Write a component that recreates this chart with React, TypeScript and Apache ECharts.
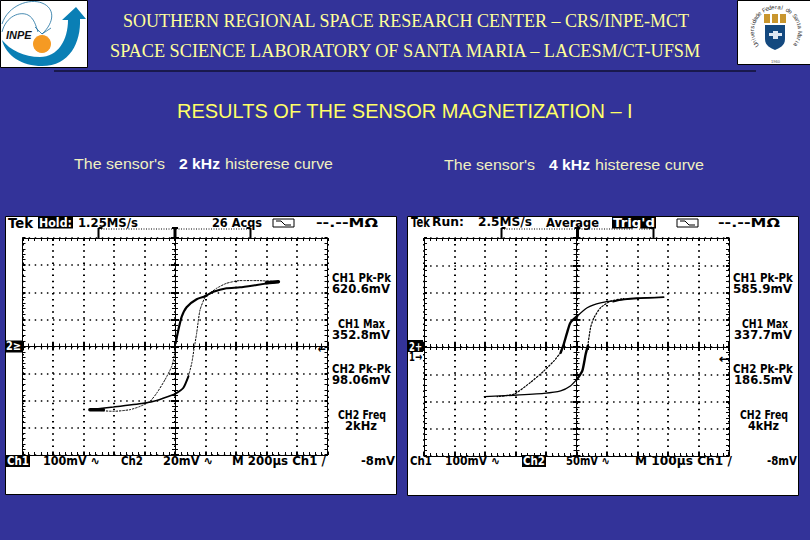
import React, { useEffect, useRef } from "react";
import * as echarts from "echarts";

const BG = "#333399";
const YELLOW = "#FFFF99";
const TITLE_YELLOW = "#FFFF66";
const PALE = "#F0F0C0";

const headerLines = [
  "SOUTHERN REGIONAL SPACE RESEARCH CENTER – CRS/INPE-MCT",
  "SPACE SCIENCE LABORATORY OF SANTA MARIA – LACESM/CT-UFSM",
];
const slideTitle = "RESULTS OF THE SENSOR MAGNETIZATION – I";
const crestText = "Universidade Federal de Santa Maria";

// Curves in graticule divisions.
const left2kLowerFlat = [[-2.79,-2.33],[-2.02,-2.23],[-1.04,-2.09],[-0.6,-1.99],[0,-1.75]];
const left2kLowerSteep = [[0,-1.75],[0.27,-1.53],[0.44,-1.1]];
const left2kRisingThin = [[0.44,-1.1],[0.55,-0.61],[0.62,-0.12],[0.71,0.49],[0.82,1.35],[0.98,1.82]];
const left2kUpperThick = [[0.98,1.85],[1.26,2.02],[1.69,2.15],[2.13,2.18],[2.68,2.27],[3.39,2.39]];
const left2kTopThin = [[3.39,2.39],[2.68,2.43],[2.13,2.43],[1.69,2.33],[1.37,2.15],[1.04,1.88]];
const left2kFallingThick = [[1.04,1.87],[0.71,1.74],[0.38,1.45],[0.22,1.1],[0.11,0.61],[0.02,0.12]];
const left2kFallingThin = [[0.02,0.12],[-0.01,-0.25],[-0.11,-0.74],[-0.33,-1.23],[-0.6,-1.72],[-0.82,-2.02],[-1.15,-2.21],[-1.48,-2.33],[-2.02,-2.39],[-2.79,-2.33]];
const left2kTipLow = [[-2.79,-2.33],[-2.35,-2.33]];
const left2kTipHigh = [[3.0,2.35],[3.39,2.39]];

const right4kLowerFlat = [[-3.02,-1.82],[-2.05,-1.77],[-1.07,-1.7],[-0.52,-1.61],[-0.2,-1.43],[0.02,-1.18]];
const right4kLowerSteep = [[0.02,-1.18],[0.19,-0.88],[0.3,-0.27],[0.37,0.04]];
const right4kRisingThin = [[0.37,0.04],[0.46,0.71],[0.57,1.07],[0.79,1.44],[1.11,1.68],[1.55,1.78]];
const right4kUpperFlat = [[1.2,1.66],[1.55,1.75],[1.99,1.8],[2.86,1.83]];
const right4kFallingFlat = [[2.86,1.83],[1.99,1.78],[1.33,1.71],[0.79,1.62],[0.35,1.44],[0.02,1.13]];
const right4kFallingSteep = [[0.02,1.13],[-0.2,0.89],[-0.31,0.52],[-0.42,0.1],[-0.52,-0.21]];
const right4kFallingThin = [[-0.52,-0.21],[-0.74,-0.51],[-1.07,-0.88],[-1.51,-1.3],[-2.05,-1.73],[-2.6,-1.82]];

const leftTop = ["Tek", "Hold:", "1.25MS/s", "26 Acqs", "--.--MΩ"];
const rightTop = ["Tek", "Run:", "2.5MS/s", "Average", "Trig'd", "--.--MΩ"];
const leftBottom = ["Ch1", "100mV ∿", "Ch2", "20mV ∿", "M 200µs Ch1 /", "-8mV"];
const rightBottom = ["Ch1", "100mV ∿", "Ch2", "50mV ∿", "M 100µs Ch1 /", "-8mV"];
const leftReadouts = ["CH1 Pk-Pk", "620.6mV", "CH1 Max", "352.8mV", "CH2 Pk-Pk", "98.06mV", "CH2 Freq", "2kHz"];
const rightReadouts = ["CH1 Pk-Pk", "585.9mV", "CH1 Max", "337.7mV", "CH2 Pk-Pk", "186.5mV", "CH2 Freq", "4kHz"];

const SANS = '"DejaVu Sans"';
const measureCtx = document.createElement("canvas").getContext("2d")!;

function plain(x: number, y: number, text: string, font: string, fill: string, z = 10, align = "left") {
  return {
    type: "text", x, y, z, silent: true,
    style: { text, font, fill, align, verticalAlign: "middle", textAlign: align, textVerticalAlign: "middle" },
  };
}
// Text stretched horizontally so that it spans exactly x..x+w
function fit(x: number, w: number, y: number, text: string, font: string, fill = "#000", z = 10) {
  measureCtx.font = font;
  const m = measureCtx.measureText(text).width;
  return { ...plain(x, y, text, font, fill, z), scaleX: w / m, originX: 0 };
}
function tek(x: number, w: number, y: number, text: string, size = 12) {
  return fit(x, w, y, text, `bold ${size}px ${SANS}`);
}
function inverse(x: number, w: number, y: number, text: string) {
  return [
    { type: "rect", z: 9, silent: true, shape: { x: x - 1, y: y - 6, width: w + 2, height: 12 }, style: { fill: "#000" } },
    fit(x, w, y, text, `bold 12px ${SANS}`, "#fff", 10),
  ];
}

function bracket(x0: number, xc: number, x1: number, y: number) {
  const st = { stroke: "#000", lineWidth: 2 };
  return [
    { type: "line", z: 5, shape: { x1: x0, y1: y - 5, x2: x0, y2: y + 5 }, style: st },
    { type: "line", z: 5, shape: { x1: x0, y1: y - 5, x2: x0 + 4, y2: y - 5 }, style: st },
    { type: "line", z: 5, shape: { x1: x1, y1: y - 5, x2: x1, y2: y + 5 }, style: st },
    { type: "line", z: 5, shape: { x1: x1, y1: y - 5, x2: x1 - 4, y2: y - 5 }, style: st },
    { type: "line", z: 5, shape: { x1: xc, y1: y - 5, x2: xc, y2: y + 5 }, style: { stroke: "#000", lineWidth: 3 } },
    { type: "line", z: 5, shape: { x1: xc - 3, y1: y - 5, x2: xc + 3, y2: y - 5 }, style: st },
    { type: "line", z: 5, shape: { x1: x0, y1: y - 4, x2: x1, y2: y - 4 }, style: { stroke: "#000", lineWidth: 1, lineDash: [1, 1.5] } },
  ];
}

function waveBox(x: number, y: number) {
  return [
    { type: "rect", z: 5, shape: { x, y, width: 21, height: 8 }, style: { fill: "#fff", stroke: "#000", lineWidth: 1 } },
    { type: "polyline", z: 6, shape: { points: [[x + 3, y + 2], [x + 8, y + 2], [x + 12, y + 6], [x + 18, y + 6]] }, style: { fill: "none", stroke: "#000", lineWidth: 1 } },
  ];
}

function scopeAxes(rect: { left: number; top: number; width: number; height: number }, g: number, axis: number) {
  const base = { type: "value", min: -5, max: 5, interval: 1, axisLabel: { show: false }, silent: true };
  const ybase = { ...base, min: -4, max: 4 };
  const dotted = (w: number) => ({ show: true, lineStyle: { color: "#000", width: w, type: [1.5, 4.6] } });
  const border = {
    axisLine: { show: true, onZero: false, lineStyle: { color: "#000", width: 1 } },
    axisTick: { show: true, inside: true, length: 3, lineStyle: { color: "#000", width: 2 } },
    minorTick: { show: true, splitNumber: 5, length: 3, lineStyle: { color: "#000", width: 1 } },
  };
  const center = (inside: boolean) => ({
    axisLine: { show: true, onZero: true, lineStyle: { color: "#000", width: 1 } },
    axisTick: { show: true, inside, length: 4, lineStyle: { color: "#000", width: 2 } },
    minorTick: { show: true, splitNumber: 5, length: 3, lineStyle: { color: "#000", width: 1 } },
    splitLine: { show: false },
  });
  const xAxis = [
    { ...base, gridIndex: g, position: "bottom", ...border, splitLine: dotted(2) },
    { ...base, gridIndex: g, position: "top", ...border, splitLine: { show: false } },
    { ...base, gridIndex: g + 1, ...center(true) },
    { ...base, gridIndex: g + 2, ...center(false) },
  ];
  const yAxis = [
    { ...ybase, gridIndex: g, position: "left", ...border, splitLine: dotted(1.5) },
    { ...ybase, gridIndex: g, position: "right", ...border, splitLine: { show: false } },
    { ...ybase, gridIndex: g + 1, ...center(true) },
    { ...ybase, gridIndex: g + 2, ...center(false) },
  ];
  return { grid: [rect, rect, rect], xAxis, yAxis, axis };
}

function trace(data: number[][], width: number, axis: number, thin = false) {
  return {
    type: "line", data, xAxisIndex: axis, yAxisIndex: axis, showSymbol: false, symbol: "none", smooth: 0.2,
    clip: false, silent: true, z: 4,
    lineStyle: { color: "#000", width, type: thin ? [1.5, 1.8] : "solid", cap: "round" },
  };
}

function App() {
  const ref = useRef<HTMLDivElement>(null);
  useEffect(() => {
    document.body.style.margin = "0";
    echarts.graphic.registerShape(
      "inpeSwoosh",
      echarts.graphic.extendPath("M76 7 L86 19 L80 19 C81 42 70 66 42 66 C22 66 6 56 2 40 C10 50 24 57 40 57 C58 57 68 40 68 20 L62 20 Z", {})
    );
    echarts.graphic.registerShape(
      "inpeArcs",
      echarts.graphic.extendPath("M2 24 C8 5 30 -2 42 3 C55 8 55 22 42 34 M42 34 L35 27 M42 34 L51 28 M2 32 C6 16 20 11 28 15 C34 18 36 26 38 32", {})
    );
    echarts.graphic.registerShape(
      "crestShield",
      echarts.graphic.extendPath("M0 0 L20 0 L20 14 C20 21 14 23 10 25 C6 23 0 21 0 14 Z", {})
    );

    const chart = echarts.init(ref.current!, null, { renderer: "svg", width: 810, height: 540 });
    const L = scopeAxes({ left: 22.5, top: 238, width: 305, height: 217 }, 0, 0);
    const R = scopeAxes({ left: 424, top: 238, width: 305, height: 218 }, 3, 4);

    const readoutYs = [278, 289, 324, 335, 369, 380, 415, 426];
    const leftReadX: [number, number][] = [[332, 59], [332, 58], [338, 47], [332, 58], [332, 59], [332, 58], [338, 48], [345, 32]];
    const rightReadX: [number, number][] = [[733, 60], [733, 59], [742, 46], [734, 58], [733, 60], [734, 58], [740, 48], [748, 31]];

    const crest: any[] = [];
    const cx = 776, cy = 31, rad = 24;
    const chars = crestText.split("");
    chars.forEach((c, i) => {
      const a = (-125 + (250 * i) / (chars.length - 1)) * (Math.PI / 180);
      if (c === " ") return;
      crest.push({
        type: "text", z: 12, x: cx + rad * Math.sin(a), y: cy - rad * Math.cos(a), rotation: -a, silent: true,
        style: { text: c, font: '6px "Liberation Sans"', fill: "#333", align: "center", verticalAlign: "middle", textAlign: "center", textVerticalAlign: "middle" },
      });
    });

    const graphic: any[] = [
      // scope panels
      { type: "rect", z: -1, shape: { x: 5.5, y: 216.5, width: 391, height: 278 }, style: { fill: "#fff", stroke: "#000", lineWidth: 1 } },
      { type: "rect", z: -1, shape: { x: 407.5, y: 216.5, width: 391, height: 279 }, style: { fill: "#fff", stroke: "#000", lineWidth: 1 } },
      // header
      fit(123, 567, 21, headerLines[0], '18px "Liberation Serif"', YELLOW),
      fit(110, 593, 51, headerLines[1], '18px "Liberation Serif"', YELLOW),
      { type: "line", z: 5, shape: { x1: 54, y1: 71, x2: 756, y2: 71 }, style: { stroke: "#000", lineWidth: 1 } },
      fit(177, 456, 111, slideTitle, '20px "Liberation Sans"', TITLE_YELLOW),
      // captions
      fit(74, 91, 164, "The sensor's", '14.4px "Liberation Sans"', PALE),
      fit(179, 41, 164, "2 kHz", 'bold 14.4px "Liberation Sans"', "#fff"),
      fit(225, 108, 164, "histerese curve", '14.4px "Liberation Sans"', PALE),
      fit(444, 91, 165, "The sensor's", '14.4px "Liberation Sans"', PALE),
      fit(549, 41, 165, "4 kHz", 'bold 14.4px "Liberation Sans"', "#fff"),
      fit(595, 109, 165, "histerese curve", '14.4px "Liberation Sans"', PALE),
      // INPE logo
      { type: "rect", z: 1, shape: { x: 0.5, y: 0.5, width: 87, height: 67 }, style: { fill: "#fff", stroke: "#000", lineWidth: 1 } },
      { type: "inpeArcs", z: 2, shape: {}, style: { fill: "none", stroke: "#1a6f9f", lineWidth: 0.8 } },
      { type: "inpeSwoosh", z: 3, shape: {}, style: { fill: "#0a7fb5" } },
      { type: "circle", z: 4, shape: { cx: 42, cy: 44, r: 9 }, style: { fill: "#f59a23" } },
      plain(6, 35, "INPE", 'italic bold 11px "Liberation Sans"', "#111", 6),
      // UFSM crest
      { type: "rect", z: 1, shape: { x: 737.5, y: 0.5, width: 73, height: 64 }, style: { fill: "#fff", stroke: "#000", lineWidth: 1 } },
      { type: "rect", z: 3, shape: { x: 764, y: 14, width: 6, height: 9 }, style: { fill: "#c9962e" } },
      { type: "rect", z: 3, shape: { x: 772, y: 14, width: 6, height: 9 }, style: { fill: "#c9962e" } },
      { type: "rect", z: 3, shape: { x: 780, y: 14, width: 6, height: 9 }, style: { fill: "#c9962e" } },
      { type: "crestShield", z: 3, x: 765, y: 25, shape: {}, style: { fill: "#14497f" } },
      { type: "rect", z: 4, shape: { x: 773, y: 31, width: 5, height: 8 }, style: { fill: "#dfe8f2" } },
      { type: "rect", z: 4, shape: { x: 769, y: 33, width: 13, height: 3 }, style: { fill: "#dfe8f2" } },
      plain(775.5, 61, "1960", '4px "Liberation Sans"', "#555", 12, "center"),
      ...crest,

      // left scope top row
      tek(8, 25, 222.5, leftTop[0], 14),
      ...inverse(39, 33, 222.5, leftTop[1]),
      tek(78, 60, 222.5, leftTop[2]),
      tek(212, 50, 222.5, leftTop[3]),
      ...waveBox(273, 219),
      tek(316, 62, 222.5, leftTop[4]),
      ...bracket(98.5, 175, 250.5, 233),
      // left scope bottom row
      ...inverse(7, 22, 461, leftBottom[0]),
      tek(43, 57, 461, leftBottom[1]),
      tek(121, 22, 461, leftBottom[2]),
      tek(163, 50, 461, leftBottom[3]),
      tek(232, 94, 461, leftBottom[4]),
      tek(361, 34, 461, leftBottom[5]),
      ...leftReadouts.map((s, i) => tek(leftReadX[i][0], leftReadX[i][1], readoutYs[i], s)),
      ...inverse(6, 15, 346.5, "2≥"),
      tek(318, 8, 349, "←"),

      // right scope top row
      tek(411, 19, 222.5, rightTop[0], 14),
      tek(432, 32, 222.5, rightTop[1]),
      tek(478, 54, 222.5, rightTop[2]),
      tek(546, 53, 222.5, rightTop[3]),
      ...inverse(613, 42, 222.5, rightTop[4]),
      ...waveBox(677, 219),
      tek(718, 62, 222.5, rightTop[5]),
      ...bracket(501.5, 577.5, 653.5, 233),
      // right scope bottom row
      tek(410, 22, 461, rightBottom[0]),
      tek(445, 55, 461, rightBottom[1]),
      ...inverse(523, 22, 461, rightBottom[2]),
      tek(566, 44, 461, rightBottom[3]),
      tek(635, 97, 461, rightBottom[4]),
      tek(767, 30, 461, rightBottom[5]),
      ...rightReadouts.map((s, i) => tek(rightReadX[i][0], rightReadX[i][1], readoutYs[i], s)),
      ...inverse(409, 13, 346, "2+"),
      tek(409, 13, 356.5, "1→"),
      tek(719, 11, 358.5, "←"),
    ];

    chart.setOption({
      animation: false,
      backgroundColor: BG,
      tooltip: { show: false },
      legend: { show: false },
      grid: [...L.grid, ...R.grid].map((r) => ({ ...r, containLabel: false, show: false })),
      xAxis: [...L.xAxis, ...R.xAxis],
      yAxis: [...L.yAxis, ...R.yAxis],
      graphic,
      series: [
        trace(left2kLowerFlat, 1.6, 0),
        trace(left2kLowerSteep, 2, 0),
        trace(left2kRisingThin, 1, 0, true),
        trace(left2kUpperThick, 2, 0),
        trace(left2kTopThin, 1, 0, true),
        trace(left2kFallingThick, 2.2, 0),
        trace(left2kFallingThin, 1, 0, true),
        trace(left2kTipLow, 3.5, 0),
        trace(left2kTipHigh, 3.5, 0),
        trace(right4kLowerFlat, 1.4, 4),
        trace(right4kLowerSteep, 2.4, 4),
        trace(right4kRisingThin, 1.2, 4, true),
        trace(right4kUpperFlat, 1.5, 4),
        trace(right4kFallingFlat, 1.4, 4),
        trace(right4kFallingSteep, 2.4, 4),
        trace(right4kFallingThin, 1.2, 4, true),
      ],
    });
    return () => chart.dispose();
  }, []);
  return <div ref={ref} style={{ position: "fixed", left: 0, top: 0, width: 810, height: 540 }} />;
}

export default App;
